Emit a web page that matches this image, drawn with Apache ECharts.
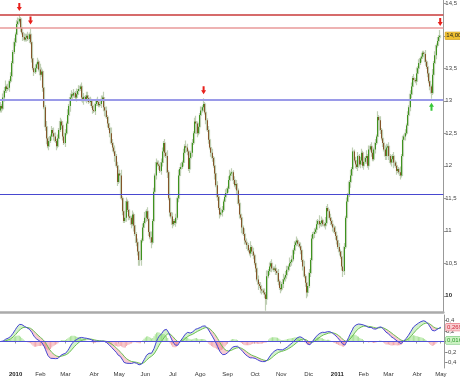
<!DOCTYPE html>
<html><head><meta charset="utf-8">
<script src="https://cdn.jsdelivr.net/npm/echarts@6/dist/echarts.min.js"></script>
<style>html,body{margin:0;padding:0;background:#fff}#c{width:460px;height:377px}</style>
</head><body><div id="c"></div>
<script>
// ---------- data ----------
const startDay = '2009-12-15', endDay = '2011-05-04';
const holidays = ['2009-12-25','2010-01-01','2010-04-02','2010-04-05','2011-04-22','2011-04-25'];
const monthNames = ['', 'Feb','Mar','Abr','May','Jun','Jul','Ago','Sep','Oct','Nov','Dic'];

const closes = [
12.92,12.88,13.05,13.15,13.22,13.18,13.2,13.3,13.38,13.58,
13.75,13.9,14.02,14.18,14.22,14.26,14.12,14.05,13.98,13.94,
13.97,14.0,13.95,14.02,13.9,13.65,13.5,13.44,13.5,13.56,
13.6,13.48,13.4,13.45,13.2,12.9,12.6,12.42,12.3,12.38,
12.45,12.55,12.5,12.45,12.38,12.3,12.42,12.55,12.68,12.62,
12.45,12.35,12.5,12.65,12.78,12.92,13.05,13.1,13.08,13.12,
13.05,13.1,13.15,13.18,13.22,13.05,13.0,13.06,13.02,13.08,
13.04,12.98,13.0,12.92,12.86,12.84,12.95,13.0,12.98,12.93,
12.95,13.02,13.05,12.9,12.85,12.75,12.65,12.58,12.5,12.35,
12.28,12.22,12.15,12.0,11.75,11.88,11.85,11.5,11.3,11.15,
11.2,11.45,11.32,11.22,11.2,11.1,11.25,11.08,10.95,10.82,
10.68,10.55,10.55,10.85,11.05,11.12,11.2,11.3,11.18,10.98,
10.9,10.82,11.15,11.6,11.85,12.05,12.02,12.0,11.92,12.05,
12.22,12.35,12.2,12.15,11.9,11.5,11.28,11.22,11.1,11.15,
11.12,11.2,11.5,11.85,11.95,11.98,12.05,12.2,12.3,12.28,
12.22,11.95,12.12,12.2,12.35,12.5,12.68,12.65,12.5,12.6,
12.78,12.85,12.9,12.95,12.82,12.7,12.55,12.4,12.28,12.2,
12.12,12.0,11.88,11.7,11.52,11.35,11.25,11.28,11.32,11.45,
11.52,11.58,11.65,11.78,11.85,11.88,11.9,11.78,11.7,11.72,
11.62,11.42,11.25,11.2,11.05,10.95,10.85,10.82,10.78,10.7,
10.65,10.75,10.68,10.62,10.5,10.42,10.25,10.18,10.15,10.1,
10.08,10.05,10.02,9.95,10.3,10.38,10.45,10.5,10.42,10.4,
10.42,10.38,10.35,10.22,10.12,10.1,10.18,10.25,10.28,10.32,
10.4,10.45,10.5,10.52,10.56,10.7,10.78,10.82,10.85,10.8,
10.76,10.7,10.55,10.45,10.3,10.2,10.05,10.15,10.35,10.55,
10.88,10.95,10.98,11.02,11.1,11.15,11.1,11.12,11.16,11.1,
11.08,11.12,11.35,11.3,11.2,11.15,11.1,11.05,10.98,10.92,
10.85,10.75,10.68,10.6,10.45,10.38,10.75,11.2,11.45,11.55,
11.75,11.85,11.95,12.22,12.08,12.02,11.98,12.15,12.02,12.08,
12.2,12.0,12.06,12.12,12.15,12.0,12.25,12.3,12.2,12.1,
12.25,12.35,12.45,12.75,12.7,12.55,12.42,12.35,12.25,12.15,
12.28,12.3,12.15,12.05,12.1,12.15,12.05,12.0,11.92,11.95,
11.9,11.85,12.15,12.4,12.45,12.5,12.62,12.78,12.9,13.1,
13.22,13.35,13.32,13.3,13.42,13.5,13.58,13.65,13.68,13.74,
13.72,13.6,13.52,13.42,13.3,13.22,13.12,13.4,13.58,13.7,
13.85,13.92,13.98,14.0
];
const firstOpen = 12.85;
// wick lengths in units of wickUnit, one digit per session
const wickUnit = 0.03;
const upWick =
"2122312121"+"1212221212"+"2121312121"+"2132121312"+"1213212121"+
"2121312212"+"1312121212"+"2121312121"+"1213121213"+"2131212312"+
"1212312121"+"2121213121"+"1312121212"+"2121312121"+"1213121213"+
"2121212312"+"1213121212"+"2131212121"+"1212312121"+"2121213121"+
"1312121212"+"2121312121"+"1212121312"+"2131212121"+"1212312121"+
"2121213121"+"1312121213"+"2121312121"+"1312121212"+"2121312121"+
"1213121312"+"2121212121"+"1312121212"+"2121312121"+"1212121312"+"1213";
const dnWick =
"1212121212"+"2121212121"+"1212121212"+"2131212312"+"1212121212"+
"2121213121"+"1212121212"+"2121212121"+"1212312121"+"2131213121"+
"1212121312"+"2333121212"+"1312121212"+"2121312121"+"1212121212"+
"2121212121"+"1212121212"+"2131212121"+"1212121212"+"2121312121"+
"1212121312"+"2126312121"+"1212121212"+"2121212121"+"1212123212"+
"2121212121"+"1212121212"+"2121232121"+"1312121212"+"2121312121"+
"1212121212"+"2121213121"+"1212121212"+"2121212121"+"1212123121"+"2121";

const levelValues = [14.32, 14.12, 13.02, 11.56];
const sellSignals = [15, 24, 163, 353];
const buySignals = [346];

// ---------- derived ----------
const dates = [];
for (let t = Date.parse(startDay + 'T00:00:00Z'); t <= Date.parse(endDay + 'T00:00:00Z'); t += 86400000) {
  const d = new Date(t), wd = d.getUTCDay(), s = d.toISOString().slice(0, 10);
  if (wd === 0 || wd === 6 || holidays.includes(s)) continue;
  dates.push(s);
}
const opens = closes.map((c, i) => i === 0 ? firstOpen : closes[i - 1]);
const highs = closes.map((c, i) => +(Math.max(opens[i], c) + (+upWick[i]) * wickUnit).toFixed(2));
const lows = closes.map((c, i) => +(Math.min(opens[i], c) - (+dnWick[i]) * wickUnit).toFixed(2));
const fullCandles = closes.map((c, i) => [opens[i], c, lows[i], highs[i]]);
const bodyCandles = closes.map((c, i) => [opens[i], c, Math.min(opens[i], c), Math.max(opens[i], c)]);

function ema(arr, n) { const k = 2 / (n + 1); const out = []; arr.forEach((v, i) => out.push(i === 0 ? v : v * k + out[i - 1] * (1 - k))); return out; }
const e12 = ema(closes, 12), e26 = ema(closes, 26);
const macd = e12.map((v, i) => v - e26[i]);
const signal = ema(macd, 9);
const hist = macd.map((v, i) => v - signal[i]);
const bandBase = macd.map((v, i) => Math.min(v, signal[i]));
const bandUp = macd.map((v, i) => v > signal[i] ? v - signal[i] : 0);
const bandDn = macd.map((v, i) => v < signal[i] ? signal[i] - v : 0);

const isMonthStart = (idx) => idx > 0 && dates[idx].slice(5, 7) !== dates[idx - 1].slice(5, 7);
const fmtComma = (v, d) => v.toFixed(d).replace('.', ',');

const downArrow = 'path://M3,0L7,0L7,6L10,6L5,12L0,6L3,6Z';
const upArrow = 'path://M5,0L10,6L7,6L7,12L3,12L3,6L0,6Z';
const FONT = '"Liberation Sans", Arial, sans-serif';
const lastIdx = closes.length - 1;
const HIDDEN = { color: 'rgba(0,0,0,0)', width: 0 };

// ---------- chart ----------
const chart = echarts.init(document.getElementById('c'), null, { renderer: 'canvas' });
const levelStyles = [
  { color: '#c83a3a', width: 1.5 }, { color: '#e89a9a', width: 1.5 },
  { color: '#9a9ae8', width: 1.8 }, { color: '#4848d0', width: 1 }
];
const boxLabel = (text, color, bg, border) => ({ show: true, position: 'end', distance: 2, formatter: text,
  fontSize: 6, color: color, backgroundColor: bg, borderColor: border, borderWidth: 0.5, padding: [1, 1, 0, 1] });
chart.setOption({
  animation: false,
  backgroundColor: '#fff',
  textStyle: { fontFamily: FONT },
  grid: [
    { left: 0, top: 0, width: 444, height: 312 },
    { left: 0, top: 315, width: 444, height: 53 }
  ],
  xAxis: [
    { type: 'category', gridIndex: 0, data: dates, boundaryGap: true,
      axisLine: { show: true, lineStyle: { color: '#aaaaaa', width: 2.5 } },
      axisTick: { show: false }, axisLabel: { show: false }, splitLine: { show: false } },
    { type: 'category', gridIndex: 1, data: dates, boundaryGap: true,
      axisLine: { show: true, lineStyle: { color: '#999', width: 1 } },
      axisTick: { show: true, interval: (i) => isMonthStart(i), length: 2, lineStyle: { color: '#999' } },
      axisLabel: { interval: (i) => isMonthStart(i), fontSize: 6, color: '#333', margin: 3,
        formatter: (v) => { const m = +v.slice(5, 7); return m === 1 ? '{b|' + v.slice(0, 4) + '}' : monthNames[m - 1]; },
        rich: { b: { fontWeight: 'bold', fontSize: 6, color: '#222' } } },
      splitLine: { show: false } }
  ],
  yAxis: [
    { type: 'value', gridIndex: 0, position: 'right', min: 9.75, max: 14.55,
      minInterval: 0.5, maxInterval: 0.5, scale: true,
      axisLine: { show: true, lineStyle: { color: '#999' } },
      axisTick: { show: true, length: 3, lineStyle: { color: '#999' } },
      axisLabel: { fontSize: 6, color: '#444', margin: 2, showMinLabel: false, showMaxLabel: false,
        formatter: (v) => v === 10 ? '{b|10}' : String(v).replace('.', ','),
        rich: { b: { fontWeight: 'bold', fontSize: 6, color: '#222' } } },
      splitLine: { show: false } },
    { type: 'value', gridIndex: 1, position: 'right', min: -0.5, max: 0.5,
      minInterval: 0.2, maxInterval: 0.2,
      axisLine: { show: true, lineStyle: { color: '#999' } },
      axisTick: { show: true, length: 3, lineStyle: { color: '#999' } },
      axisLabel: { fontSize: 6, color: '#444', margin: 2, showMinLabel: false, showMaxLabel: false,
        formatter: (v) => Math.abs(v) < 1e-9 ? '0' : fmtComma(v, 1) },
      splitLine: { show: false } }
  ],
  series: [
    { name: 'wicks', type: 'candlestick', xAxisIndex: 0, yAxisIndex: 0, data: fullCandles,
      barWidth: 1.5, silent: true,
      itemStyle: { color: '#bfcfb4', color0: '#bfcfb4', borderColor: '#bfcfb4', borderColor0: '#bfcfb4', borderWidth: 1.2 } },
    { name: 'bodies', type: 'candlestick', xAxisIndex: 0, yAxisIndex: 0, data: bodyCandles,
      barWidth: 1, silent: true,
      itemStyle: { color: '#3f931f', color0: '#84552a', borderColor: '#3f931f', borderColor0: '#84552a', borderWidth: 1 },
      markLine: { silent: true, symbol: ['none', 'none'], animation: false,
        data: levelValues.map((v, k) => ({ yAxis: v, lineStyle: { color: levelStyles[k].color, width: levelStyles[k].width, type: 'solid' }, label: { show: false } }))
          .concat([{ yAxis: closes[lastIdx], lineStyle: HIDDEN,
            label: boxLabel(fmtComma(closes[lastIdx], 2), '#222', '#f0c030', '#c89410') }]) },
      markPoint: { silent: true, animation: false, label: { show: false },
        data: sellSignals.map(i => ({ coord: [dates[i], highs[i]], symbol: downArrow, symbolSize: [5, 8], symbolOffset: [0, -8], itemStyle: { color: '#e8201c' } }))
          .concat(buySignals.map(i => ({ coord: [dates[i], lows[i]], symbol: upArrow, symbolSize: [5, 8], symbolOffset: [0, 8], itemStyle: { color: '#38c838' } }))) } },
    { name: 'base', type: 'line', xAxisIndex: 1, yAxisIndex: 1, data: bandBase, stack: 'band', stackStrategy: 'all',
      symbol: 'none', lineStyle: { opacity: 0 }, silent: true },
    { name: 'up', type: 'line', xAxisIndex: 1, yAxisIndex: 1, data: bandUp, stack: 'band', stackStrategy: 'all',
      symbol: 'none', lineStyle: { opacity: 0 }, areaStyle: { color: 'rgba(130,215,110,0.5)' }, silent: true },
    { name: 'dn', type: 'line', xAxisIndex: 1, yAxisIndex: 1, data: bandDn, stack: 'band', stackStrategy: 'all',
      symbol: 'none', lineStyle: { opacity: 0 }, areaStyle: { color: 'rgba(235,120,135,0.55)' }, silent: true },
    { name: 'hist', type: 'bar', xAxisIndex: 1, yAxisIndex: 1, data: hist, barWidth: 1, silent: true,
      itemStyle: { color: (p) => p.value >= 0 ? '#a6e294' : '#f2a8b0' },
      markLine: { silent: true, symbol: ['none', 'none'], animation: false,
        data: [{ yAxis: 0, lineStyle: { color: '#5050d8', width: 1, type: 'solid' }, label: { show: false } },
          { yAxis: hist[lastIdx], lineStyle: HIDDEN,
            label: boxLabel(fmtComma(hist[lastIdx], 3), '#2a9a2a', '#cdf2c4', '#4ab84a') }] } },
    { name: 'signal', type: 'line', xAxisIndex: 1, yAxisIndex: 1, data: signal, symbol: 'none', silent: true,
      lineStyle: { color: '#6cbf52', width: 1 } },
    { name: 'macd', type: 'line', xAxisIndex: 1, yAxisIndex: 1, data: macd, symbol: 'none', silent: true,
      lineStyle: { color: '#4444d4', width: 1 },
      markLine: { silent: true, symbol: ['none', 'none'], animation: false,
        data: [{ yAxis: macd[lastIdx], lineStyle: HIDDEN,
          label: boxLabel(fmtComma(macd[lastIdx], 3), '#d02438', '#f8cdd0', '#e05a68') }] } }
  ]
});
</script></body></html>
